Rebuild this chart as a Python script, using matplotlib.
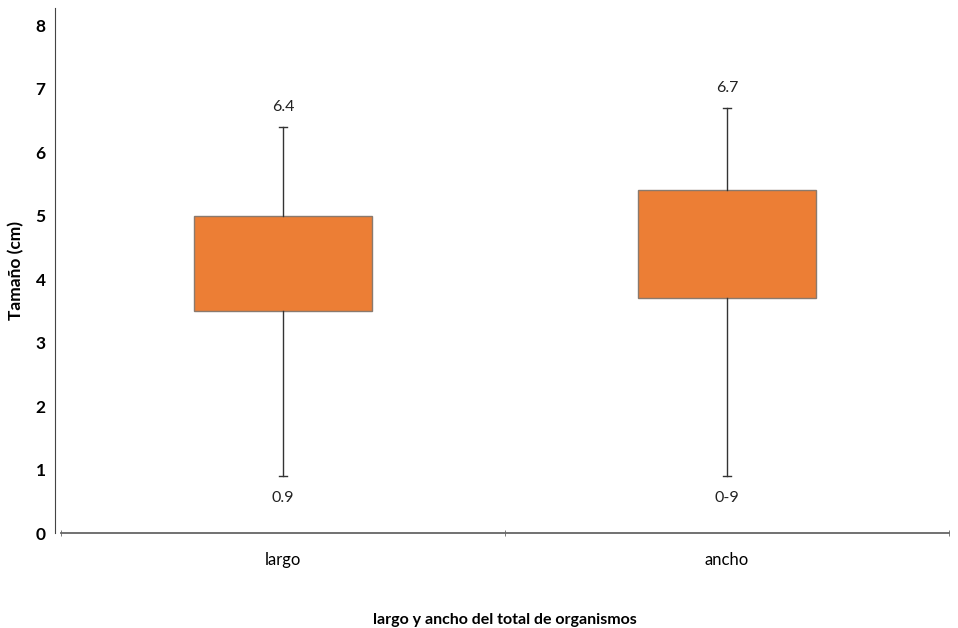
import matplotlib
matplotlib.use("Agg")
import matplotlib.pyplot as plt

plt.rcParams['font.family'] = ['Lato', 'DejaVu Sans']

categories = ["largo", "ancho"]
whisker_low = [0.9, 0.9]
q1 = [3.5, 3.7]
q3 = [5.0, 5.4]
whisker_high = [6.4, 6.7]
top_labels = ["6.4", "6.7"]
bottom_labels = ["0.9", "0-9"]
y_ticks = [0, 1, 2, 3, 4, 5, 6, 7, 8]

fig = plt.figure(figsize=(9.58, 6.28), dpi=100)
ax = fig.add_axes([61/958, 1-533/628, (949-61)/958, (533-8)/628])

positions = [0.5, 1.5]
stats = []
for i, c in enumerate(categories):
    stats.append(dict(label=c, whislo=whisker_low[i], q1=q1[i], med=q1[i],
                      q3=q3[i], whishi=whisker_high[i], fliers=[]))

ax.bxp(stats, positions=positions, widths=0.4, patch_artist=True,
       showfliers=False, capwidths=0.02,
       boxprops=dict(facecolor='#EC7E35', edgecolor='#8a7a6e', linewidth=1.0),
       whiskerprops=dict(color='#333333', linewidth=1.0),
       capprops=dict(color='#333333', linewidth=1.0),
       medianprops=dict(linewidth=0))

for i in range(len(categories)):
    ax.annotate(top_labels[i], (positions[i], whisker_high[i]), xytext=(0, 14),
                textcoords='offset points', ha='center', va='center', fontsize=11.5,
                color='#222222')
    ax.annotate(bottom_labels[i], (positions[i], whisker_low[i]), xytext=(0, -16),
                textcoords='offset points', ha='center', va='center', fontsize=11.5,
                color='#222222')

ax.set_xlim(0, 2)
ax.set_ylim(0, 8.27)
ax.set_yticks(y_ticks, labels=[str(v) for v in y_ticks])
ax.tick_params(axis='y', length=0, pad=7, labelsize=12.5)
ax.set_xticks(positions, labels=categories)
ax.tick_params(axis='x', length=0, pad=14, labelsize=12)
ax.set_xticks([0, 1, 2], minor=True)
ax.tick_params(axis='x', which='minor', length=4, direction='inout', color='#666666')

ax.spines['top'].set_visible(False)
ax.spines['right'].set_visible(False)
ax.spines['left'].set_position(('outward', 4))
ax.spines['left'].set_color('#444444')
ax.spines['bottom'].set_color('#666666')
ax.spines['bottom'].set_linewidth(1.3)

ax.set_ylabel("Tamaño (cm)", fontweight='bold', fontsize=12.5, labelpad=8)
ax.set_xlabel("largo y ancho del total de organismos", fontweight='bold', fontsize=11.5, labelpad=32)

fig.canvas.draw()
for lab in ax.get_yticklabels():
    lab.set_fontweight('bold')

fig.savefig("out.png", dpi=100)
